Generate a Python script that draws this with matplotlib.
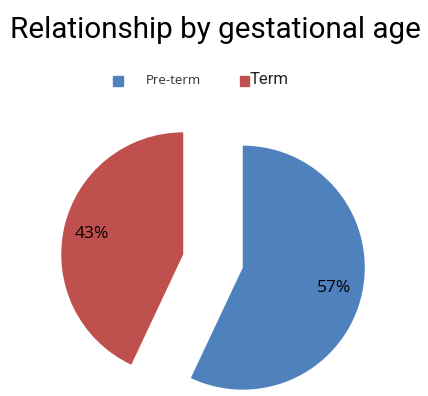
import numpy as np
import matplotlib.pyplot as plt
from matplotlib.patches import Rectangle

labels = ["Pre-term", "Term"]
values = [57, 43]
colors = ["#4F81BD", "#C0504D"]
explode = [0.25, 0.25]

W, H = 428, 396
fig = plt.figure(figsize=(W / 100, H / 100), dpi=100)
ax = fig.add_axes([0, 0, 1, 1])

wedges, texts, autotexts = ax.pie(values, colors=colors, explode=explode,
                                  startangle=90, counterclock=False,
                                  autopct="%1.0f%%", pctdistance=0.77,
                                  wedgeprops=dict(linewidth=0),
                                  textprops=dict(fontsize=12.5, family="Open Sans",
                                                 color="black"))

# pie centre at (213, 261) px from top-left, radius 122 px
r = 122.0
cx, cy = 213, 261
ax.set_xlim(-cx / r, (W - cx) / r)
ax.set_ylim(-(H - cy) / r, cy / r)
ax.set_aspect("auto")
ax.axis("off")

fig.text(215 / W, 1 - 30 / H, "Relationship by gestational age", ha="center", va="center",
         fontsize=21.3, family="Roboto", color="black")

# legend
fig.patches.append(Rectangle((113 / W, 1 - 86 / H), 10 / W, 10 / H, transform=fig.transFigure,
                             color=colors[0], figure=fig))
fig.text(146 / W, 1 - 80 / H, labels[0], ha="left", va="center", fontsize=9.5,
         family="Open Sans", color="#333333")
fig.patches.append(Rectangle((240 / W, 1 - 86 / H), 9 / W, 10 / H, transform=fig.transFigure,
                             color=colors[1], figure=fig))
fig.text(250 / W, 1 - 80 / H, labels[1], ha="left", va="center", fontsize=12,
         family="Roboto", color="#222222")

fig.savefig("out.png", dpi=100)
